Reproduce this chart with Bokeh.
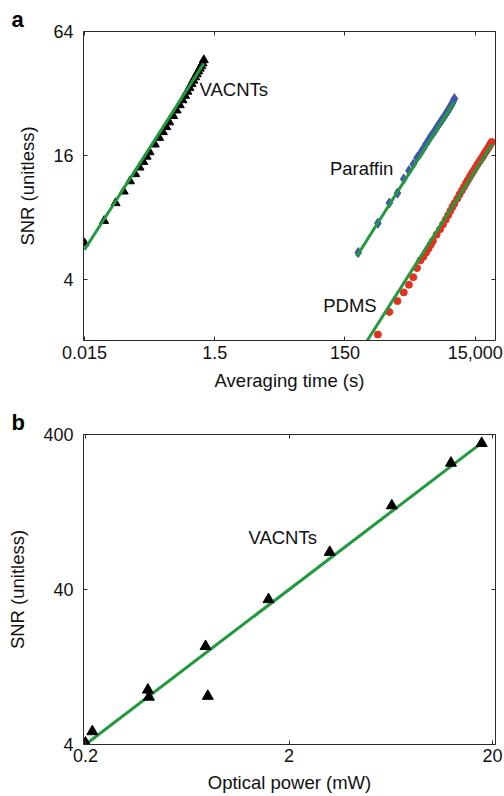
from bokeh.plotting import figure
from bokeh.models import Range1d, FixedTicker, LogAxis, Label, CustomJSTickFormatter
from bokeh.layouts import column
from bokeh.embed import file_html
from bokeh.resources import INLINE

FONT = "Liberation Sans"

# ---------------- Panel a data ----------------
vacnt_tau = [0.015, 0.03, 0.045, 0.06, 0.075, 0.09, 0.105, 0.12, 0.135, 0.15,
             0.18, 0.21, 0.24, 0.27, 0.30, 0.345, 0.39, 0.435, 0.48, 0.525,
             0.57, 0.615, 0.66, 0.705, 0.75, 0.795, 0.84, 0.885, 0.93, 0.975, 1.02]
vacnt_snr = [6.0, 7.7, 9.4, 10.7, 12.0, 13.0, 14.0, 14.9, 15.8, 16.6,
             18.1, 19.5, 20.8, 22.0, 23.2, 24.9, 26.5, 28.1, 29.7, 31.2,
             32.7, 34.1, 35.6, 37.0, 38.4, 39.7, 41.0, 42.3, 43.5, 44.8, 46.5]

paraffin_tau = [240, 480, 720, 960, 1200, 1440, 1680, 1920, 2160, 2400,
                2640, 2880, 3120, 3360, 3600, 3840, 4080, 4320, 4560, 4800,
                5040, 5280, 5520, 5760, 6000, 6240, 6480, 6720, 6960, 7200]
paraffin_snr = [5.4, 7.5, 9.4, 10.5, 12.3, 13.5, 14.5, 15.6, 16.4, 17.3,
                18.2, 19.0, 19.8, 20.4, 21.1, 21.8, 22.5, 23.0, 23.7, 24.2,
                24.8, 25.4, 25.9, 26.5, 27.0, 27.6, 28.2, 28.8, 29.5, 30.2]

pdms_tau = [480, 720, 960, 1200, 1440, 1680, 1920, 2160, 2400, 2640, 2880, 3120, 3360,
            3840, 4320, 4800, 5280, 5760, 6240, 6720, 7200,
            7920, 8640, 9360, 10080, 10800, 11520, 12240, 12960, 13680, 14400,
            15360, 16320, 17280, 18240, 19200, 20160, 21120, 22080, 23040, 24000,
            24960, 25920, 26880]
pdms_snr = [2.16, 2.78, 3.14, 3.46, 3.77, 4.10, 4.54, 4.95, 5.15, 5.4, 5.65, 5.9, 6.15,
            6.6, 7.0, 7.4, 7.8, 8.2, 8.6, 9.0, 9.35,
            9.85, 10.35, 10.8, 11.25, 11.7, 12.1, 12.5, 12.9, 13.25, 13.6,
            14.05, 14.5, 14.9, 15.3, 15.65, 16.05, 16.45, 16.8, 17.15, 17.5,
            17.9, 18.25, 18.6]

vacnt_fit_tau = [0.015, 1.02]
vacnt_fit_snr = [5.57, 44.8]
paraffin_fit_tau = [226, 7125]
paraffin_fit_snr = [5.17, 29.0]
pdms_fit_tau = [330, 27400]
pdms_fit_snr = [2.02, 18.2]

a_xticks = [0.015, 1.5, 150, 15000]
a_xtick_labels = ["0.015", "1.5", "150", "15,000"]
a_yticks = [4, 16, 64]
a_ytick_labels = ["4", "16", "64"]

# ---------------- Panel b data ----------------
power_mw = [0.2, 0.216, 0.405, 0.41, 0.778, 0.798, 1.586, 3.17, 6.4, 12.5, 17.7]
power_snr = [4.1, 4.85, 9.0, 8.1, 17.2, 8.2, 34.5, 69.6, 139, 262, 351]
power_fit_x = [0.2, 17.9]
power_fit_y = [4.0, 357]

b_xticks = [0.2, 2, 20]
b_xtick_labels = ["0.2", "2", "20"]
b_yticks = [4, 40, 400]
b_ytick_labels = ["4", "40", "400"]

GREEN = "#1f9a3c"
BLUE = "#4355b0"
RED = "#e5301f"
AXIS = "#2a2a2a"
TICK_FS = "18px"
LABEL_FS = "18.5px"


def style_axis(ax, ticks, labels=None):
    ax.ticker = FixedTicker(ticks=ticks)
    ax.axis_line_color = AXIS
    ax.axis_line_width = 1
    ax.major_tick_line_color = AXIS
    ax.major_tick_in = 4
    ax.major_tick_out = 0
    ax.minor_tick_line_color = None
    ax.major_label_text_font = FONT
    ax.major_label_text_color = "#111111"
    ax.axis_label_text_font = FONT
    ax.axis_label_text_font_style = "normal"
    ax.axis_label_text_color = "#111111"
    if labels is not None:
        ax.major_label_overrides = {t: l for t, l in zip(ticks, labels)}
        ax.major_label_text_font_size = TICK_FS
        ax.axis_label_text_font_size = LABEL_FS
    else:
        ax.formatter = CustomJSTickFormatter(code="return ''")
        ax.major_label_text_font_size = "0px"
        ax.major_label_standoff = 0
        ax.axis_label_standoff = 0


def make_fig(height, xr, yr, top, bottom, letter):
    p = figure(width=504, height=height, x_axis_type="log", y_axis_type="log",
               x_range=Range1d(*xr), y_range=Range1d(*yr),
               output_backend="svg", toolbar_location=None,
               min_border_left=83, min_border_right=9,
               min_border_top=top, min_border_bottom=bottom,
               title=letter)
    p.title.text_font = FONT
    p.title.text_font_size = "22px"
    p.title.text_font_style = "bold"
    p.title.text_color = "black"
    p.title.align = "left"
    p.title.offset = -72
    p.title.standoff = 0
    p.title.text_line_height = 1.4
    p.xgrid.visible = False
    p.ygrid.visible = False
    p.outline_line_color = None
    p.background_fill_color = "white"
    p.border_fill_color = "white"
    return p


# ---------------- Panel a ----------------
pa = make_fig(398, (0.01448, 30760), (2.02, 64), 31, 58, "a")
style_axis(pa.xaxis[0], a_xticks, a_xtick_labels)
style_axis(pa.yaxis[0], a_yticks, a_ytick_labels)
pa.xaxis[0].axis_label = "Averaging time (s)"
pa.yaxis[0].axis_label = "SNR (unitless)"
pa.xaxis[0].major_label_standoff = 5
pa.xaxis[0].axis_label_standoff = 8
pa.yaxis[0].major_label_standoff = 10
pa.yaxis[0].axis_label_standoff = 12
top_a = LogAxis()
right_a = LogAxis()
style_axis(top_a, a_xticks)
style_axis(right_a, a_yticks)
pa.add_layout(top_a, "above")
pa.add_layout(right_a, "right")

pa.scatter(vacnt_tau, vacnt_snr, marker="triangle", size=9, color="black")
pa.scatter(paraffin_tau, paraffin_snr, marker="diamond", size=10, color=BLUE)
pa.scatter(pdms_tau, pdms_snr, marker="circle", size=7, color=RED)
pa.line(vacnt_fit_tau, vacnt_fit_snr, line_color=GREEN, line_width=3)
pa.line(paraffin_fit_tau, paraffin_fit_snr, line_color=GREEN, line_width=3)
pa.line(pdms_fit_tau, pdms_fit_snr, line_color=GREEN, line_width=3)

for txt, x, y in [("VACNTs", 0.876, 33.5), ("Paraffin", 88.3, 13.9), ("PDMS", 69.6, 3.0)]:
    pa.add_layout(Label(x=x, y=y, text=txt, text_font=FONT, text_font_size=LABEL_FS,
                        text_baseline="middle", text_align="left", text_color="#111111"))

# ---------------- Panel b ----------------
pb = make_fig(398, (0.1955, 20.69), (4, 400), 36, 52, "b")
style_axis(pb.xaxis[0], b_xticks, b_xtick_labels)
style_axis(pb.yaxis[0], b_yticks, b_ytick_labels)
pb.xaxis[0].axis_label = "Optical power (mW)"
pb.yaxis[0].axis_label = "SNR (unitless)"
pb.xaxis[0].major_label_standoff = 4
pb.xaxis[0].axis_label_standoff = 7
pb.yaxis[0].major_label_standoff = 10
pb.yaxis[0].axis_label_standoff = 12
top_b = LogAxis()
right_b = LogAxis()
style_axis(top_b, b_xticks)
style_axis(right_b, b_yticks)
pb.add_layout(top_b, "above")
pb.add_layout(right_b, "right")

pb.line(power_fit_x, power_fit_y, line_color=GREEN, line_width=3)
pb.scatter(power_mw, power_snr, marker="triangle", size=11, color="black")
pb.add_layout(Label(x=1.264, y=86.6, text="VACNTs", text_font=FONT, text_font_size=LABEL_FS,
                    text_baseline="middle", text_align="left", text_color="#111111"))

layout = column(pa, pb, spacing=0)
open("out.html", "w").write(file_html(layout, INLINE))
